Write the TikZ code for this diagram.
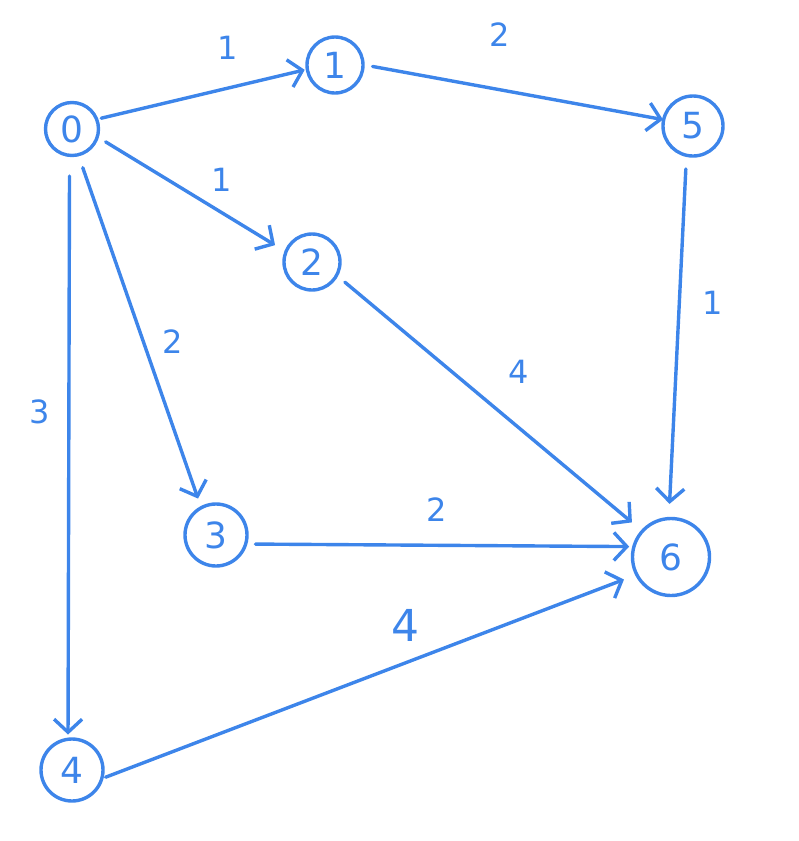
\documentclass[tikz,border=0pt]{standalone}
\usepackage{fontspec}
\setmainfont{DejaVu Sans}
\usetikzlibrary{arrows.meta}
\definecolor{pen}{RGB}{61,133,234}
\begin{document}
\begin{tikzpicture}[x=1pt,y=-1pt,
  vert/.style={circle,draw=pen,line width=3.4pt,text=pen,inner sep=0pt,font=\fontsize{36}{36}\selectfont},
  edge/.style={draw=pen,line width=3.4pt,line cap=round,-{Straight Barb[length=13pt,width=28pt,line width=3.4pt]}},
  wt/.style={text=pen,font=\fontsize{32}{32}\selectfont}]
\useasboundingbox (0,0) rectangle (799,841);
\node[vert,minimum size=53pt] (n0) at (72,129) {0};
\node[vert,minimum size=56pt] (n1) at (335,65) {1};
\node[vert,minimum size=60pt] (n5) at (693,126) {5};
\node[vert,minimum size=56pt] (n2) at (312,262) {2};
\node[vert,minimum size=62pt] (n3) at (216,535) {3};
\node[vert,minimum size=77pt] (n6) at (671,557) {6};
\node[vert,minimum size=62pt] (n4) at (72,770) {4};
\draw[edge,shorten <=3pt,shorten >=1pt] (n0.21) -- (n1.189);
\draw[edge,shorten <=8pt,shorten >=-1pt] (n1.0) -- (n5.168);
\draw[edge,shorten <=8pt,shorten >=11pt] (n0.-18) -- (n2.158);
\draw[edge,shorten <=12pt,shorten >=8pt] (n0.-76) -- (n3.118);
\draw[edge,shorten <=19pt,shorten >=3pt] (n0.-95) -- (n4.97);
\draw[edge,shorten <=9pt,shorten >=12pt] (n2.-29) -- (n6.138);
\draw[edge,shorten <=12pt,shorten >=13pt] (n5.-102) -- (n6.93);
\draw[edge,shorten <=8pt,shorten >=3pt] (n3.-16) -- (n6.165);
\draw[edge,shorten <=2pt,shorten >=12pt] (n4.-14) -- (n6.207);
\node[wt] (w01) at (228,48) {1};
\node[wt] (w15) at (500,35) {2};
\node[wt] (w02) at (222,180) {1};
\node[wt] (w03) at (173,342) {2};
\node[wt] (w04) at (40,412) {3};
\node[wt] (w26) at (519,372) {4};
\node[wt] (w56) at (713,303) {1};
\node[wt] (w36) at (437,510) {2};
\node[wt,font=\fontsize{44}{44}\selectfont] (w46) at (405,625) {4};
\end{tikzpicture}
\end{document}
